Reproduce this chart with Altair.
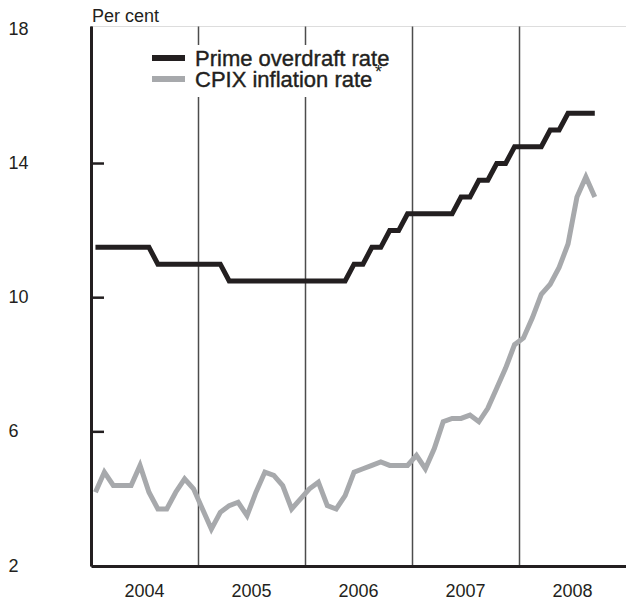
import altair as alt
import pandas as pd

# ---- data (monthly, Jan 2004 - Sep 2008) ----
years = [2004, 2005, 2006, 2007, 2008]
months = [f"{y}-{m:02d}" for y in years for m in range(1, 13)][:57]

prime = [
    11.5, 11.5, 11.5, 11.5, 11.5, 11.5, 11.5, 11.0, 11.0, 11.0, 11.0, 11.0,   # 2004
    11.0, 11.0, 11.0, 10.5, 10.5, 10.5, 10.5, 10.5, 10.5, 10.5, 10.5, 10.5,   # 2005
    10.5, 10.5, 10.5, 10.5, 10.5, 11.0, 11.0, 11.5, 11.5, 12.0, 12.0, 12.5,   # 2006
    12.5, 12.5, 12.5, 12.5, 12.5, 13.0, 13.0, 13.5, 13.5, 14.0, 14.0, 14.5,   # 2007
    14.5, 14.5, 14.5, 15.0, 15.0, 15.5, 15.5, 15.5, 15.5,                     # 2008
]
cpix = [
    4.2, 4.8, 4.4, 4.4, 4.4, 5.0, 4.2, 3.7, 3.7, 4.2, 4.6, 4.3,   # 2004
    3.7, 3.1, 3.6, 3.8, 3.9, 3.5, 4.2, 4.8, 4.7, 4.4, 3.7, 4.0,   # 2005
    4.3, 4.5, 3.8, 3.7, 4.1, 4.8, 4.9, 5.0, 5.1, 5.0, 5.0, 5.0,   # 2006
    5.3, 4.9, 5.5, 6.3, 6.4, 6.4, 6.5, 6.3, 6.7, 7.3, 7.9, 8.6,   # 2007
    8.8, 9.4, 10.1, 10.4, 10.9, 11.6, 13.0, 13.6, 13.0,           # 2008
]
series_names = ["Prime overdraft rate", "CPIX inflation rate"]
unit_label = "Per cent"
y_ticks = [2, 6, 10, 14, 18]
inner_ticks = [6, 10, 14]

BLACK = "#231f20"
GREY = "#a7a9ac"
FONT = "Liberation Sans, Arial, Helvetica, sans-serif"
W = 535
H = 540


def month_pos(s):
    y, m = s.split("-")
    return int(y) + (int(m) - 0.5) / 12.0


rows = []
for name, vals in zip(series_names, [prime, cpix]):
    for mo, v in zip(months, vals):
        rows.append({"month": mo, "t": month_pos(mo), "value": v, "series": name})
df = pd.DataFrame(rows)

x_scale = alt.Scale(domain=[2004, 2009], nice=False, zero=False)
y_scale = alt.Scale(domain=[2, 18.1], nice=False, zero=False)

x_axis = alt.Axis(
    values=years, format="d", title=None, grid=True, gridColor="#4d4d4d",
    gridWidth=1.5, ticks=False, tickSize=0, domain=True, domainColor=BLACK,
    domainWidth=3, labelOffset=53, labelAlign="center", labelFlush=False,
    labelOverlap=False, labelFontSize=18, labelFont=FONT, labelColor=BLACK,
    labelPadding=16,
)
y_axis = alt.Axis(
    values=y_ticks, title=None, grid=False, ticks=False, tickSize=0,
    domain=True, domainColor=BLACK, domainWidth=3, labelAlign="left",
    labelBaseline="middle", labelPadding=83, labelFontSize=18,
    labelFont=FONT, labelColor=BLACK, labelFlush=False, labelOverlap=False,
)

lines = alt.Chart(df).mark_line(strokeWidth=5, strokeJoin="miter").encode(
    x=alt.X("t:Q", scale=x_scale, axis=x_axis),
    y=alt.Y("value:Q", scale=y_scale, axis=y_axis),
    color=alt.Color("series:N", scale=alt.Scale(domain=series_names, range=[BLACK, GREY]), legend=None),
    detail="series:N",
)

ticks = alt.Chart(pd.DataFrame({"v": inner_ticks})).mark_rule(
    color=BLACK, strokeWidth=2.5
).encode(
    y=alt.Y("v:Q", scale=y_scale),
    x=alt.value(0),
    x2=alt.value(13),
)

one = pd.DataFrame({"k": [0]})
unit_txt = alt.Chart(one).mark_text(
    align="left", baseline="top", fontSize=18, font=FONT, color=BLACK
).encode(x=alt.value(1), y=alt.value(-18), text=alt.value(unit_label))

leg_bg = alt.Chart(one).mark_rect(color="white").encode(
    x=alt.value(54), x2=alt.value(304), y=alt.value(19), y2=alt.value(71)
)
leg_line1 = alt.Chart(one).mark_rule(color=BLACK, strokeWidth=6).encode(
    x=alt.value(61), x2=alt.value(94), y=alt.value(32)
)
leg_line2 = alt.Chart(one).mark_rule(color=GREY, strokeWidth=6).encode(
    x=alt.value(61), x2=alt.value(94), y=alt.value(53)
)
leg_txt1 = alt.Chart(one).mark_text(
    align="left", baseline="middle", fontSize=22, font=FONT, color=BLACK,
    stroke=BLACK, strokeWidth=0.4,
).encode(x=alt.value(104), y=alt.value(33), text=alt.value(series_names[0]))
leg_txt2 = alt.Chart(one).mark_text(
    align="left", baseline="middle", fontSize=22, font=FONT, color=BLACK,
    stroke=BLACK, strokeWidth=0.4,
).encode(x=alt.value(104), y=alt.value(54), text=alt.value(series_names[1]))
leg_star = alt.Chart(one).mark_text(
    align="left", baseline="top", fontSize=18, font=FONT, color=BLACK
).encode(x=alt.value(284), y=alt.value(38), text=alt.value("*"))

chart = alt.layer(
    leg_bg, lines, ticks, unit_txt, leg_line1, leg_line2, leg_txt1, leg_txt2, leg_star
).properties(
    width=W, height=H, padding=0,
).configure_view(
    stroke=BLACK, strokeWidth=2
).configure(background="white")

chart.save("out.html", embed_options={"renderer": "svg", "actions": False})
